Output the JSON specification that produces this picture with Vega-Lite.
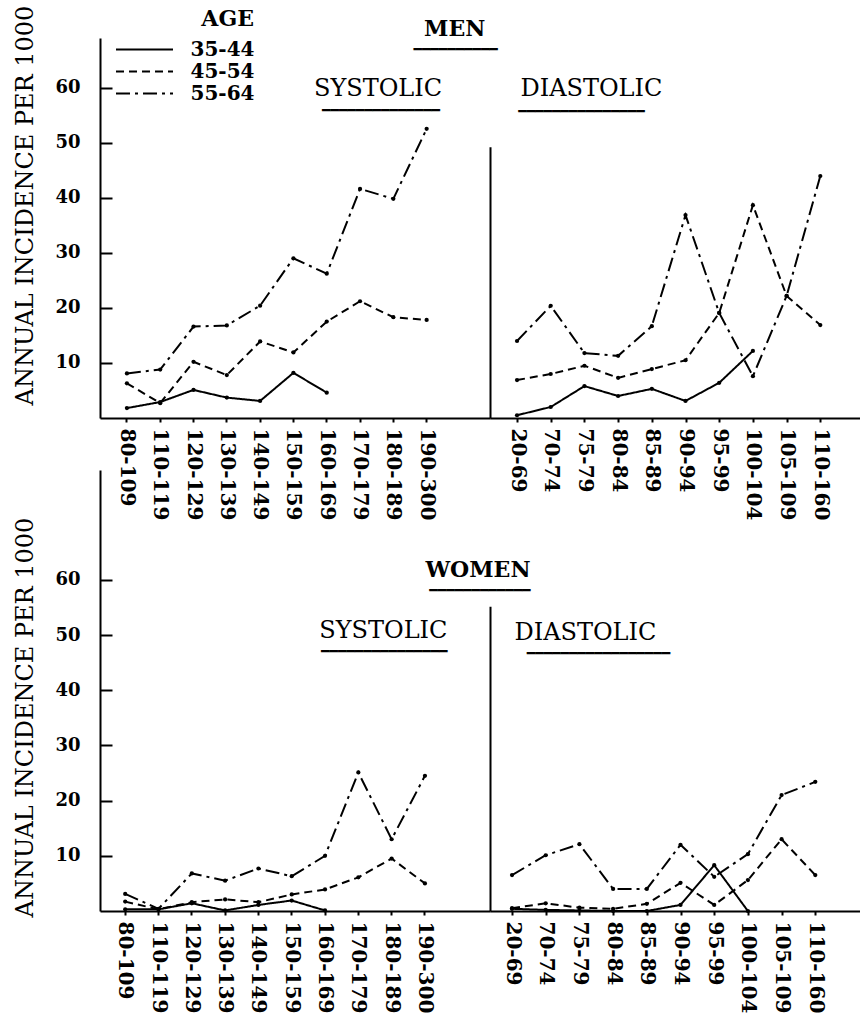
{
  "$schema": "https://vega.github.io/schema/vega-lite/v6.json",
  "background": "white",
  "padding": {"left": 13, "top": 5, "right": 0, "bottom": 0},
  "config": {
    "view": {"stroke": null},
    "font": "DejaVu Serif",
    "axis": {"labelColor": "black", "titleColor": "black", "domainColor": "black", "tickColor": "black", "grid": false}
  },
  "datasets": {
    "incidence": [
      {"sex": "Men", "type": "Systolic", "bp": "80-109", "age": "35-44", "rate": 1.8},
      {"sex": "Men", "type": "Systolic", "bp": "110-119", "age": "35-44", "rate": 2.9},
      {"sex": "Men", "type": "Systolic", "bp": "120-129", "age": "35-44", "rate": 5.1},
      {"sex": "Men", "type": "Systolic", "bp": "130-139", "age": "35-44", "rate": 3.7},
      {"sex": "Men", "type": "Systolic", "bp": "140-149", "age": "35-44", "rate": 3.1},
      {"sex": "Men", "type": "Systolic", "bp": "150-159", "age": "35-44", "rate": 8.2},
      {"sex": "Men", "type": "Systolic", "bp": "160-169", "age": "35-44", "rate": 4.6},
      {"sex": "Men", "type": "Systolic", "bp": "80-109", "age": "45-54", "rate": 6.3},
      {"sex": "Men", "type": "Systolic", "bp": "110-119", "age": "45-54", "rate": 2.7},
      {"sex": "Men", "type": "Systolic", "bp": "120-129", "age": "45-54", "rate": 10.2},
      {"sex": "Men", "type": "Systolic", "bp": "130-139", "age": "45-54", "rate": 7.8},
      {"sex": "Men", "type": "Systolic", "bp": "140-149", "age": "45-54", "rate": 13.9},
      {"sex": "Men", "type": "Systolic", "bp": "150-159", "age": "45-54", "rate": 11.9},
      {"sex": "Men", "type": "Systolic", "bp": "160-169", "age": "45-54", "rate": 17.5},
      {"sex": "Men", "type": "Systolic", "bp": "170-179", "age": "45-54", "rate": 21.2},
      {"sex": "Men", "type": "Systolic", "bp": "180-189", "age": "45-54", "rate": 18.3},
      {"sex": "Men", "type": "Systolic", "bp": "190-300", "age": "45-54", "rate": 17.8},
      {"sex": "Men", "type": "Systolic", "bp": "80-109", "age": "55-64", "rate": 8.1},
      {"sex": "Men", "type": "Systolic", "bp": "110-119", "age": "55-64", "rate": 8.8},
      {"sex": "Men", "type": "Systolic", "bp": "120-129", "age": "55-64", "rate": 16.6},
      {"sex": "Men", "type": "Systolic", "bp": "130-139", "age": "55-64", "rate": 16.8},
      {"sex": "Men", "type": "Systolic", "bp": "140-149", "age": "55-64", "rate": 20.4},
      {"sex": "Men", "type": "Systolic", "bp": "150-159", "age": "55-64", "rate": 29.0},
      {"sex": "Men", "type": "Systolic", "bp": "160-169", "age": "55-64", "rate": 26.2},
      {"sex": "Men", "type": "Systolic", "bp": "170-179", "age": "55-64", "rate": 41.6},
      {"sex": "Men", "type": "Systolic", "bp": "180-189", "age": "55-64", "rate": 39.8},
      {"sex": "Men", "type": "Systolic", "bp": "190-300", "age": "55-64", "rate": 52.5},

      {"sex": "Men", "type": "Diastolic", "bp": "20-69", "age": "35-44", "rate": 0.5},
      {"sex": "Men", "type": "Diastolic", "bp": "70-74", "age": "35-44", "rate": 2.0},
      {"sex": "Men", "type": "Diastolic", "bp": "75-79", "age": "35-44", "rate": 5.8},
      {"sex": "Men", "type": "Diastolic", "bp": "80-84", "age": "35-44", "rate": 4.0},
      {"sex": "Men", "type": "Diastolic", "bp": "85-89", "age": "35-44", "rate": 5.3},
      {"sex": "Men", "type": "Diastolic", "bp": "90-94", "age": "35-44", "rate": 3.1},
      {"sex": "Men", "type": "Diastolic", "bp": "95-99", "age": "35-44", "rate": 6.4},
      {"sex": "Men", "type": "Diastolic", "bp": "100-104", "age": "35-44", "rate": 12.2},
      {"sex": "Men", "type": "Diastolic", "bp": "20-69", "age": "45-54", "rate": 6.9},
      {"sex": "Men", "type": "Diastolic", "bp": "70-74", "age": "45-54", "rate": 8.0},
      {"sex": "Men", "type": "Diastolic", "bp": "75-79", "age": "45-54", "rate": 9.5},
      {"sex": "Men", "type": "Diastolic", "bp": "80-84", "age": "45-54", "rate": 7.3},
      {"sex": "Men", "type": "Diastolic", "bp": "85-89", "age": "45-54", "rate": 8.9},
      {"sex": "Men", "type": "Diastolic", "bp": "90-94", "age": "45-54", "rate": 10.5},
      {"sex": "Men", "type": "Diastolic", "bp": "95-99", "age": "45-54", "rate": 19.1},
      {"sex": "Men", "type": "Diastolic", "bp": "100-104", "age": "45-54", "rate": 38.7},
      {"sex": "Men", "type": "Diastolic", "bp": "105-109", "age": "45-54", "rate": 22.2},
      {"sex": "Men", "type": "Diastolic", "bp": "110-160", "age": "45-54", "rate": 16.9},
      {"sex": "Men", "type": "Diastolic", "bp": "20-69", "age": "55-64", "rate": 14.0},
      {"sex": "Men", "type": "Diastolic", "bp": "70-74", "age": "55-64", "rate": 20.4},
      {"sex": "Men", "type": "Diastolic", "bp": "75-79", "age": "55-64", "rate": 11.8},
      {"sex": "Men", "type": "Diastolic", "bp": "80-84", "age": "55-64", "rate": 11.3},
      {"sex": "Men", "type": "Diastolic", "bp": "85-89", "age": "55-64", "rate": 16.7},
      {"sex": "Men", "type": "Diastolic", "bp": "90-94", "age": "55-64", "rate": 36.9},
      {"sex": "Men", "type": "Diastolic", "bp": "95-99", "age": "55-64", "rate": 19.1},
      {"sex": "Men", "type": "Diastolic", "bp": "100-104", "age": "55-64", "rate": 7.6},
      {"sex": "Men", "type": "Diastolic", "bp": "105-109", "age": "55-64", "rate": 22.2},
      {"sex": "Men", "type": "Diastolic", "bp": "110-160", "age": "55-64", "rate": 44.0},

      {"sex": "Women", "type": "Systolic", "bp": "80-109", "age": "35-44", "rate": 0.3},
      {"sex": "Women", "type": "Systolic", "bp": "110-119", "age": "35-44", "rate": 0.3},
      {"sex": "Women", "type": "Systolic", "bp": "120-129", "age": "35-44", "rate": 1.4},
      {"sex": "Women", "type": "Systolic", "bp": "130-139", "age": "35-44", "rate": 0.1},
      {"sex": "Women", "type": "Systolic", "bp": "140-149", "age": "35-44", "rate": 1.1},
      {"sex": "Women", "type": "Systolic", "bp": "150-159", "age": "35-44", "rate": 1.9},
      {"sex": "Women", "type": "Systolic", "bp": "160-169", "age": "35-44", "rate": 0.1},
      {"sex": "Women", "type": "Systolic", "bp": "80-109", "age": "45-54", "rate": 1.7},
      {"sex": "Women", "type": "Systolic", "bp": "110-119", "age": "45-54", "rate": 0.3},
      {"sex": "Women", "type": "Systolic", "bp": "120-129", "age": "45-54", "rate": 1.6},
      {"sex": "Women", "type": "Systolic", "bp": "130-139", "age": "45-54", "rate": 2.1},
      {"sex": "Women", "type": "Systolic", "bp": "140-149", "age": "45-54", "rate": 1.6},
      {"sex": "Women", "type": "Systolic", "bp": "150-159", "age": "45-54", "rate": 3.0},
      {"sex": "Women", "type": "Systolic", "bp": "160-169", "age": "45-54", "rate": 3.9},
      {"sex": "Women", "type": "Systolic", "bp": "170-179", "age": "45-54", "rate": 6.1},
      {"sex": "Women", "type": "Systolic", "bp": "180-189", "age": "45-54", "rate": 9.5},
      {"sex": "Women", "type": "Systolic", "bp": "190-300", "age": "45-54", "rate": 5.0},
      {"sex": "Women", "type": "Systolic", "bp": "80-109", "age": "55-64", "rate": 3.1},
      {"sex": "Women", "type": "Systolic", "bp": "110-119", "age": "55-64", "rate": 0.4},
      {"sex": "Women", "type": "Systolic", "bp": "120-129", "age": "55-64", "rate": 6.8},
      {"sex": "Women", "type": "Systolic", "bp": "130-139", "age": "55-64", "rate": 5.5},
      {"sex": "Women", "type": "Systolic", "bp": "140-149", "age": "55-64", "rate": 7.7},
      {"sex": "Women", "type": "Systolic", "bp": "150-159", "age": "55-64", "rate": 6.3},
      {"sex": "Women", "type": "Systolic", "bp": "160-169", "age": "55-64", "rate": 10.0},
      {"sex": "Women", "type": "Systolic", "bp": "170-179", "age": "55-64", "rate": 25.1},
      {"sex": "Women", "type": "Systolic", "bp": "180-189", "age": "55-64", "rate": 13.0},
      {"sex": "Women", "type": "Systolic", "bp": "190-300", "age": "55-64", "rate": 24.5},

      {"sex": "Women", "type": "Diastolic", "bp": "20-69", "age": "35-44", "rate": 0.4},
      {"sex": "Women", "type": "Diastolic", "bp": "70-74", "age": "35-44", "rate": 0.2},
      {"sex": "Women", "type": "Diastolic", "bp": "75-79", "age": "35-44", "rate": 0.1},
      {"sex": "Women", "type": "Diastolic", "bp": "80-84", "age": "35-44", "rate": 0.0},
      {"sex": "Women", "type": "Diastolic", "bp": "85-89", "age": "35-44", "rate": 0.0},
      {"sex": "Women", "type": "Diastolic", "bp": "90-94", "age": "35-44", "rate": 1.1},
      {"sex": "Women", "type": "Diastolic", "bp": "95-99", "age": "35-44", "rate": 8.3},
      {"sex": "Women", "type": "Diastolic", "bp": "100-104", "age": "35-44", "rate": 0.0},
      {"sex": "Women", "type": "Diastolic", "bp": "20-69", "age": "45-54", "rate": 0.5},
      {"sex": "Women", "type": "Diastolic", "bp": "70-74", "age": "45-54", "rate": 1.4},
      {"sex": "Women", "type": "Diastolic", "bp": "75-79", "age": "45-54", "rate": 0.6},
      {"sex": "Women", "type": "Diastolic", "bp": "80-84", "age": "45-54", "rate": 0.4},
      {"sex": "Women", "type": "Diastolic", "bp": "85-89", "age": "45-54", "rate": 1.3},
      {"sex": "Women", "type": "Diastolic", "bp": "90-94", "age": "45-54", "rate": 5.1},
      {"sex": "Women", "type": "Diastolic", "bp": "95-99", "age": "45-54", "rate": 1.1},
      {"sex": "Women", "type": "Diastolic", "bp": "100-104", "age": "45-54", "rate": 5.6},
      {"sex": "Women", "type": "Diastolic", "bp": "105-109", "age": "45-54", "rate": 13.0},
      {"sex": "Women", "type": "Diastolic", "bp": "110-160", "age": "45-54", "rate": 6.5},
      {"sex": "Women", "type": "Diastolic", "bp": "20-69", "age": "55-64", "rate": 6.5},
      {"sex": "Women", "type": "Diastolic", "bp": "70-74", "age": "55-64", "rate": 10.1},
      {"sex": "Women", "type": "Diastolic", "bp": "75-79", "age": "55-64", "rate": 12.1},
      {"sex": "Women", "type": "Diastolic", "bp": "80-84", "age": "55-64", "rate": 4.0},
      {"sex": "Women", "type": "Diastolic", "bp": "85-89", "age": "55-64", "rate": 4.0},
      {"sex": "Women", "type": "Diastolic", "bp": "90-94", "age": "55-64", "rate": 12.0},
      {"sex": "Women", "type": "Diastolic", "bp": "95-99", "age": "55-64", "rate": 6.2},
      {"sex": "Women", "type": "Diastolic", "bp": "100-104", "age": "55-64", "rate": 10.3},
      {"sex": "Women", "type": "Diastolic", "bp": "105-109", "age": "55-64", "rate": 21.0},
      {"sex": "Women", "type": "Diastolic", "bp": "110-160", "age": "55-64", "rate": 23.4}
    ]
  },
  "spacing": 432,
  "bounds": "flush",
  "vconcat": [
    {
      "spacing": 0,
      "bounds": "flush",
      "hconcat": [
        {
          "width": 390,
          "height": 380,
          "layer": [
            {
              "data": {"name": "incidence"},
              "transform": [{"filter": "datum.sex === 'Men' && datum.type === 'Systolic'"}],
              "encoding": {
                "x": {"field": "bp", "type": "ordinal",
                  "sort": ["80-109","110-119","120-129","130-139","140-149","150-159","160-169","170-179","180-189","190-300"],
                  "scale": {"type": "band", "domain": ["80-109","110-119","120-129","130-139","140-149","150-159","160-169","170-179","180-189","190-300"], "paddingInner": 0, "paddingOuter": 0.855, "align": 0.18},
                  "axis": {"title": null, "labelAngle": 90, "labelFont": "DejaVu Serif", "labelFontSize": 20, "labelFontWeight": "bold", "labelPadding": 6, "tickSize": 4, "tickWidth": 2, "domainWidth": 2, "labelOverlap": false}},
                "y": {"field": "rate", "type": "quantitative",
                  "scale": {"domain": [0, 69], "nice": false},
                  "axis": {"title": "ANNUAL INCIDENCE PER 1000", "titleFont": "DejaVu Serif", "titleFontSize": 24, "titleFontWeight": "normal", "titlePadding": 17, "titleY": 167,
                    "values": [10, 20, 30, 40, 50, 60], "labelFont": "DejaVu Serif", "labelFontSize": 18, "labelFontWeight": "bold", "labelPadding": 32, "tickSize": -12, "tickWidth": 2, "domainWidth": 2}}
              },
              "layer": [
                {
                  "mark": {"type": "line", "color": "black", "strokeWidth": 2},
                  "encoding": {
                    "strokeDash": {"field": "age", "type": "nominal",
                      "scale": {"domain": ["35-44", "45-54", "55-64"], "range": [[1, 0], [8, 5], [14, 5, 3, 5]]},
                      "legend": {"orient": "none", "legendX": 34, "legendY": -29, "title": "AGE", "titleFont": "DejaVu Serif", "titleFontSize": 22, "titleFontWeight": "bold", "titleColor": "black", "titleAnchor": "end", "titlePadding": 8,
                        "symbolType": "M-3,0H3", "symbolSize": 361, "symbolStrokeWidth": 2, "symbolStrokeColor": "black", "symbolFillColor": "transparent",
                        "labelFont": "DejaVu Serif", "labelFontSize": 20, "labelFontWeight": "bold", "labelColor": "black", "labelOffset": 35.5, "rowPadding": 1}}
                  }
                },
                {"mark": {"type": "point", "filled": true, "color": "black", "size": 18, "opacity": 1}}
              ]
            },
            {
              "data": {"values": [{"label": "MEN"}]},
              "mark": {"type": "text", "font": "DejaVu Serif", "fontSize": 22, "fontWeight": "bold", "color": "black", "dx": 28},
              "encoding": {"x": {"datum": "190-300"}, "y": {"datum": 70.7}, "text": {"field": "label"}}
            },
            {
              "data": {"values": [{"label": "━━━━━━━━━━"}]},
              "mark": {"type": "text", "font": "DejaVu Sans Mono", "fontSize": 14, "color": "black", "dx": 29},
              "encoding": {"x": {"datum": "190-300"}, "y": {"datum": 66.9}, "text": {"field": "label"}}
            },
            {
              "data": {"values": [{"label": "SYSTOLIC"}]},
              "mark": {"type": "text", "font": "DejaVu Serif", "fontSize": 24, "color": "black", "dx": 18},
              "encoding": {"x": {"datum": "170-179"}, "y": {"datum": 59.8}, "text": {"field": "label"}}
            },
            {
              "data": {"values": [{"label": "━━━━━━━━━━━━━━"}]},
              "mark": {"type": "text", "font": "DejaVu Sans Mono", "fontSize": 14, "color": "black", "dx": 21},
              "encoding": {"x": {"datum": "170-179"}, "y": {"datum": 55.7}, "text": {"field": "label"}}
            }
          ]
        },
        {
          "width": 370,
          "height": 380,
          "layer": [
            {
              "data": {"name": "incidence"},
              "transform": [{"filter": "datum.sex === 'Men' && datum.type === 'Diastolic'"}],
              "encoding": {
                "x": {"field": "bp", "type": "ordinal",
                  "sort": ["20-69","70-74","75-79","80-84","85-89","90-94","95-99","100-104","105-109","110-160"],
                  "scale": {"type": "point", "domain": ["20-69","70-74","75-79","80-84","85-89","90-94","95-99","100-104","105-109","110-160"], "padding": 0.99, "align": 0.405},
                  "axis": {"title": null, "labelAngle": 90, "labelFont": "DejaVu Serif", "labelFontSize": 20, "labelFontWeight": "bold", "labelPadding": 6, "tickSize": 4, "tickWidth": 2, "domainWidth": 2, "labelOverlap": false}},
                "y": {"field": "rate", "type": "quantitative",
                  "scale": {"domain": [0, 49.3], "range": [380, 108.85], "nice": false},
                  "axis": {"title": null, "labels": false, "ticks": false, "domain": true, "domainWidth": 2}}
              },
              "layer": [
                {
                  "mark": {"type": "line", "color": "black", "strokeWidth": 2},
                  "encoding": {
                    "strokeDash": {"field": "age", "type": "nominal",
                      "scale": {"domain": ["35-44", "45-54", "55-64"], "range": [[1, 0], [8, 5], [14, 5, 3, 5]]},
                      "legend": null}
                  }
                },
                {"mark": {"type": "point", "filled": true, "color": "black", "size": 18, "opacity": 1}}
              ]
            },
            {
              "data": {"values": [{"label": "DIASTOLIC"}]},
              "mark": {"type": "text", "font": "DejaVu Serif", "fontSize": 24, "color": "black", "dx": 7},
              "encoding": {"x": {"datum": "75-79"}, "y": {"datum": 59.8}, "text": {"field": "label"}}
            },
            {
              "data": {"values": [{"label": "━━━━━━━━━━━━━━━"}]},
              "mark": {"type": "text", "font": "DejaVu Sans Mono", "fontSize": 14, "color": "black", "dx": -3},
              "encoding": {"x": {"datum": "75-79"}, "y": {"datum": 55.6}, "text": {"field": "label"}}
            }
          ]
        }
      ]
    },
    {
      "spacing": 0,
      "bounds": "flush",
      "hconcat": [
        {
          "width": 390,
          "height": 441,
          "layer": [
            {
              "data": {"name": "incidence"},
              "transform": [{"filter": "datum.sex === 'Women' && datum.type === 'Systolic'"}],
              "encoding": {
                "x": {"field": "bp", "type": "ordinal",
                  "sort": ["80-109","110-119","120-129","130-139","140-149","150-159","160-169","170-179","180-189","190-300"],
                  "scale": {"type": "band", "domain": ["80-109","110-119","120-129","130-139","140-149","150-159","160-169","170-179","180-189","190-300"], "paddingInner": 0, "paddingOuter": 0.855, "align": 0.15},
                  "axis": {"title": null, "labelAngle": 90, "labelFont": "DejaVu Serif", "labelFontSize": 20, "labelFontWeight": "bold", "labelPadding": 6, "tickSize": 4, "tickWidth": 2, "domainWidth": 2, "labelOverlap": false}},
                "y": {"field": "rate", "type": "quantitative",
                  "scale": {"domain": [0, 79.9], "nice": false},
                  "axis": {"title": "ANNUAL INCIDENCE PER 1000", "titleFont": "DejaVu Serif", "titleFontSize": 24, "titleFontWeight": "normal", "titlePadding": 17, "titleY": 247,
                    "values": [10, 20, 30, 40, 50, 60], "labelFont": "DejaVu Serif", "labelFontSize": 18, "labelFontWeight": "bold", "labelPadding": 32, "tickSize": -12, "tickWidth": 2, "domainWidth": 2}}
              },
              "layer": [
                {
                  "mark": {"type": "line", "color": "black", "strokeWidth": 2},
                  "encoding": {
                    "strokeDash": {"field": "age", "type": "nominal",
                      "scale": {"domain": ["35-44", "45-54", "55-64"], "range": [[1, 0], [8, 5], [14, 5, 3, 5]]},
                      "legend": null}
                  }
                },
                {"mark": {"type": "point", "filled": true, "color": "black", "size": 18, "opacity": 1}}
              ]
            },
            {
              "data": {"values": [{"label": "WOMEN"}]},
              "mark": {"type": "text", "font": "DejaVu Serif", "fontSize": 22, "fontWeight": "bold", "color": "black", "dx": 53},
              "encoding": {"x": {"datum": "190-300"}, "y": {"datum": 61.8}, "text": {"field": "label"}}
            },
            {
              "data": {"values": [{"label": "━━━━━━━━━━━━"}]},
              "mark": {"type": "text", "font": "DejaVu Sans Mono", "fontSize": 14, "color": "black", "dx": 55},
              "encoding": {"x": {"datum": "190-300"}, "y": {"datum": 58.0}, "text": {"field": "label"}}
            },
            {
              "data": {"values": [{"label": "SYSTOLIC"}]},
              "mark": {"type": "text", "font": "DejaVu Serif", "fontSize": 24, "color": "black", "dx": 25},
              "encoding": {"x": {"datum": "170-179"}, "y": {"datum": 50.7}, "text": {"field": "label"}}
            },
            {
              "data": {"values": [{"label": "━━━━━━━━━━━━━━━"}]},
              "mark": {"type": "text", "font": "DejaVu Sans Mono", "fontSize": 14, "color": "black", "dx": 26},
              "encoding": {"x": {"datum": "170-179"}, "y": {"datum": 46.9}, "text": {"field": "label"}}
            }
          ]
        },
        {
          "width": 370,
          "height": 441,
          "layer": [
            {
              "data": {"name": "incidence"},
              "transform": [{"filter": "datum.sex === 'Women' && datum.type === 'Diastolic'"}],
              "encoding": {
                "x": {"field": "bp", "type": "ordinal",
                  "sort": ["20-69","70-74","75-79","80-84","85-89","90-94","95-99","100-104","105-109","110-160"],
                  "scale": {"type": "point", "domain": ["20-69","70-74","75-79","80-84","85-89","90-94","95-99","100-104","105-109","110-160"], "padding": 0.99, "align": 0.33},
                  "axis": {"title": null, "labelAngle": 90, "labelFont": "DejaVu Serif", "labelFontSize": 20, "labelFontWeight": "bold", "labelPadding": 6, "tickSize": 4, "tickWidth": 2, "domainWidth": 2, "labelOverlap": false}},
                "y": {"field": "rate", "type": "quantitative",
                  "scale": {"domain": [0, 55.2], "range": [441, 136.3], "nice": false},
                  "axis": {"title": null, "labels": false, "ticks": false, "domain": true, "domainWidth": 2}}
              },
              "layer": [
                {
                  "mark": {"type": "line", "color": "black", "strokeWidth": 2},
                  "encoding": {
                    "strokeDash": {"field": "age", "type": "nominal",
                      "scale": {"domain": ["35-44", "45-54", "55-64"], "range": [[1, 0], [8, 5], [14, 5, 3, 5]]},
                      "legend": null}
                  }
                },
                {"mark": {"type": "point", "filled": true, "color": "black", "size": 18, "opacity": 1}}
              ]
            },
            {
              "data": {"values": [{"label": "DIASTOLIC"}]},
              "mark": {"type": "text", "font": "DejaVu Serif", "fontSize": 24, "color": "black", "dx": 6},
              "encoding": {"x": {"datum": "75-79"}, "y": {"datum": 50.4}, "text": {"field": "label"}}
            },
            {
              "data": {"values": [{"label": "━━━━━━━━━━━━━━━━━"}]},
              "mark": {"type": "text", "font": "DejaVu Sans Mono", "fontSize": 14, "color": "black", "dx": 19},
              "encoding": {"x": {"datum": "75-79"}, "y": {"datum": 46.6}, "text": {"field": "label"}}
            }
          ]
        }
      ]
    }
  ]
}
